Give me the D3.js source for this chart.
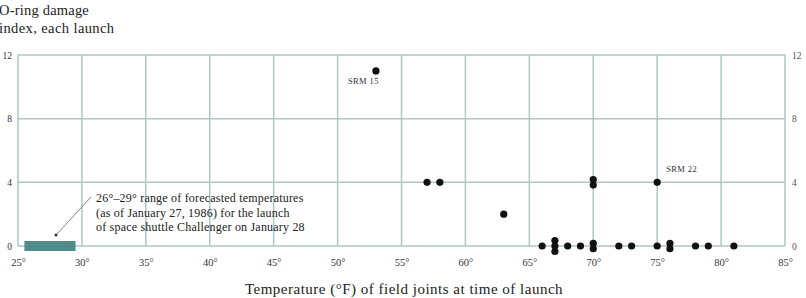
<!DOCTYPE html>
<html>
<head>
<meta charset="utf-8">
<script src="https://cdn.jsdelivr.net/npm/d3@7"></script>
<style>
body { margin: 0; background: #fff; }
text { font-family: "Liberation Serif", "DejaVu Serif", serif; }
</style>
</head>
<body>
<script>
var width = 806;
var height = 298;
var gridColor = "#adc6c6";
var barColor = "#4f8c8a";

// launches: temperature, damage index
var temps = [53, 57, 58, 63, 70, 70, 75, 66, 67, 67, 67, 68, 69, 70, 70, 72, 73, 75, 76, 76, 78, 79, 81];
var damage = [11, 4, 4, 2, 4, 4, 4, 0, 0, 0, 0, 0, 0, 0, 0, 0, 0, 0, 0, 0, 0, 0, 0];
var labels = ["SRM 15", "", "", "", "", "", "SRM 22", "", "", "", "", "", "", "", "", "", "", "", "", "", "", "", ""];
var forecastRange = [26, 29];
var xTicks = [25, 30, 35, 40, 45, 50, 55, 60, 65, 70, 75, 80, 85];
var yTicks = [0, 4, 8, 12];

var svg = d3.select("body").append("svg")
    .attr("width", width)
    .attr("height", height);

var x = d3.scaleLinear().domain([25, 85]).range([18, 785]);
var y = d3.scaleLinear().domain([0, 12]).range([246, 55]);

// grid
svg.append("g")
    .selectAll("line")
    .data(xTicks)
    .enter().append("line")
    .attr("x1", function(d) { return x(d); })
    .attr("x2", function(d) { return x(d); })
    .attr("y1", y(12))
    .attr("y2", y(0))
    .attr("stroke", gridColor)
    .attr("stroke-width", 1.5);

svg.append("g")
    .selectAll("line")
    .data(yTicks)
    .enter().append("line")
    .attr("x1", x(25))
    .attr("x2", x(85))
    .attr("y1", function(d) { return y(d); })
    .attr("y2", function(d) { return y(d); })
    .attr("stroke", gridColor)
    .attr("stroke-width", 1.5);

// axis labels
var xAxis = d3.axisBottom(x).tickValues(xTicks).tickSize(0).tickPadding(0)
    .tickFormat(function(d) { return d + "°"; });
svg.append("g")
    .attr("transform", "translate(0,266)")
    .call(xAxis)
    .attr("font-family", null)
    .call(function(g) { g.select(".domain").remove(); })
    .selectAll("text")
    .attr("dy", 0)
    .attr("font-size", 10.5)
    .attr("fill", "#333");

var yLeft = d3.axisLeft(y).tickValues(yTicks).tickSize(0).tickPadding(0);
svg.append("g")
    .attr("transform", "translate(12,0)")
    .call(yLeft)
    .attr("font-family", null)
    .call(function(g) { g.select(".domain").remove(); })
    .selectAll("text")
    .attr("font-size", 9.5)
    .attr("fill", "#333");

var yRight = d3.axisRight(y).tickValues(yTicks).tickSize(0).tickPadding(0);
svg.append("g")
    .attr("transform", "translate(792,0)")
    .call(yRight)
    .attr("font-family", null)
    .call(function(g) { g.select(".domain").remove(); })
    .selectAll("text")
    .attr("font-size", 9.5)
    .attr("fill", "#555");

// forecast range bar
svg.append("rect")
    .attr("x", x(forecastRange[0] - 0.5))
    .attr("y", y(0) - 5)
    .attr("width", x(forecastRange[1] + 0.5) - x(forecastRange[0] - 0.5))
    .attr("height", 10)
    .attr("fill", barColor);

// stacked dots: offset duplicates vertically
var counts = {};
var points = temps.map(function(t, i) {
    var key = t + "_" + damage[i];
    counts[key] = (counts[key] || 0) + 1;
    return { t: t, d: damage[i], k: counts[key] - 1, key: key };
});
points.forEach(function(p) {
    p.off = (p.k - (counts[p.key] - 1) / 2) * 5.5;
});

svg.append("g")
    .selectAll("circle")
    .data(points)
    .enter().append("circle")
    .attr("cx", function(d) { return x(d.t); })
    .attr("cy", function(d) { return y(d.d) + d.off; })
    .attr("r", 3.6)
    .attr("fill", "#111");

svg.append("text")
    .attr("x", x(53) - 28)
    .attr("y", y(11) + 13)
    .attr("font-size", 8.5)
    .attr("fill", "#333")
    .attr("letter-spacing", 0.4)
    .text(labels[0]);

svg.append("text")
    .attr("x", x(75) + 9)
    .attr("y", y(4) - 10)
    .attr("font-size", 8.5)
    .attr("fill", "#333")
    .attr("letter-spacing", 0.4)
    .text(labels[6]);

// annotation
var note = svg.append("text")
    .attr("x", 96)
    .attr("font-size", 12)
    .attr("letter-spacing", 0.2)
    .attr("fill", "#222");
["26°–29° range of forecasted temperatures",
 "(as of January 27, 1986) for the launch",
 "of space shuttle Challenger on January 28"].forEach(function(s, i) {
    note.append("tspan").attr("x", 96).attr("y", 202 + i * 14.5).text(s);
});

svg.append("line")
    .attr("x1", 91)
    .attr("y1", 197)
    .attr("x2", 57)
    .attr("y2", 234)
    .attr("stroke", "#666")
    .attr("stroke-width", 0.8);
svg.append("circle")
    .attr("cx", 56)
    .attr("cy", 235)
    .attr("r", 1.5)
    .attr("fill", "#333");

// titles
svg.append("text")
    .attr("x", -1)
    .attr("y", 15)
    .attr("font-size", 14.5)
    .attr("letter-spacing", 0.2)
    .attr("fill", "#222")
    .text("O-ring damage");
svg.append("text")
    .attr("x", -1)
    .attr("y", 33)
    .attr("font-size", 14.5)
    .attr("letter-spacing", 0.4)
    .attr("fill", "#222")
    .text("index, each launch");

svg.append("text")
    .attr("x", 404)
    .attr("y", 294)
    .attr("text-anchor", "middle")
    .attr("font-size", 15)
    .attr("letter-spacing", 0.5)
    .attr("fill", "#222")
    .text("Temperature (°F) of field joints at time of launch");
</script>
</body>
</html>
